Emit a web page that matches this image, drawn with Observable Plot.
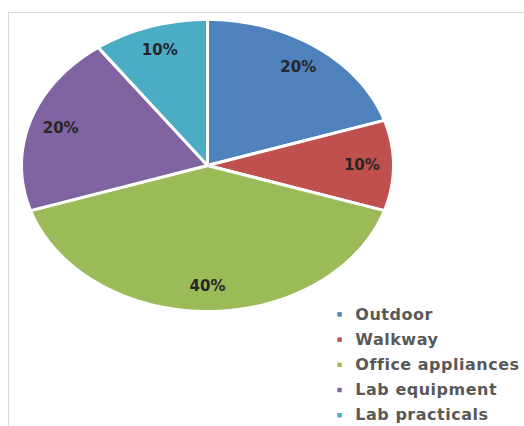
<!DOCTYPE html>
<html>
<head>
<meta charset="utf-8">
<script src="https://cdn.jsdelivr.net/npm/d3@7"></script>
<script src="https://cdn.jsdelivr.net/npm/@observablehq/plot@0.6"></script>
<style>
  html, body { margin: 0; padding: 0; background: #fff; overflow: hidden; }
  #wrap { position: relative; width: 524px; height: 426px; }
  #border { position: absolute; left: 8px; top: 12px; width: 520px; height: 420px;
            border-top: 1px solid #d9d9d9; border-left: 1px solid #d9d9d9; pointer-events: none; }
  svg { position: absolute; left: 0; top: 0; }
</style>
</head>
<body>
<div id="wrap"><div id="border"></div></div>
<script>
const categories = ["Outdoor", "Walkway", "Office appliances", "Lab equipment", "Lab practicals"];
const shares = [20, 10, 40, 20, 10];
const labels = ["20%", "10%", "40%", "20%", "10%"];
const colors = ["#4F81BD", "#C0504D", "#9BBB59", "#8064A2", "#4BACC6"];

const arcs = d3.pie().sort(null)(shares);
const slices = arcs.map((a, i) => ({cat: categories[i], label: labels[i], start: a.startAngle, end: a.endAngle}));

// outline points of each slice in unit coordinates (0 at top, clockwise)
const points = [];
for (const s of slices) {
  points.push({cat: s.cat, x: 0, y: 0});
  const n = Math.max(2, Math.ceil((s.end - s.start) / (Math.PI / 180)));
  for (let k = 0; k <= n; k++) {
    const t = s.start + (s.end - s.start) * k / n;
    points.push({cat: s.cat, x: Math.sin(t), y: -Math.cos(t)});
  }
}
const labelR = 0.83;
const legendRows = categories.map((c, i) => ({cat: c, i}));
const legendTop = 1.02, legendStep = 0.1726, legendX = 0.71, legendTextX = 0.795;

const chart = Plot.plot({
  width: 524,
  height: 426,
  margin: 0,
  x: {domain: [-1, 1], range: [21, 393], axis: null},
  y: {domain: [-1, 1], range: [19, 311], axis: null},
  color: {domain: categories, range: colors},
  marks: [
    Plot.line(points, {x: "x", y: "y", z: "cat", fill: "cat", stroke: "white", strokeWidth: 3,
      strokeLinejoin: "round", curve: "linear-closed"}),
    Plot.text(slices, {
      x: d => labelR * Math.sin((d.start + d.end) / 2),
      y: d => -labelR * Math.cos((d.start + d.end) / 2),
      text: "label", fill: "#262626", fontSize: 15, fontWeight: "bold",
      fontFamily: "DejaVu Sans"
    }),
    Plot.dot(legendRows, {x: () => legendX, y: d => legendTop + d.i * legendStep,
      symbol: "square", r: 2.5, fill: "cat", stroke: null}),
    Plot.text(legendRows, {x: () => legendTextX, y: d => legendTop + d.i * legendStep,
      text: "cat", textAnchor: "start", fill: "#595959", fontSize: 16, fontWeight: "bold",
      fontFamily: "DejaVu Sans"})
  ]
});
chart.querySelectorAll("text").forEach(t => {
  if (t.closest("g") && t.getAttribute("font-size") === "16") t.style.letterSpacing = "0.5px";
});
chart.querySelectorAll("g[font-size='16']").forEach(g => g.style.letterSpacing = "0.5px");
document.getElementById("wrap").prepend(chart);
</script>
</body>
</html>
